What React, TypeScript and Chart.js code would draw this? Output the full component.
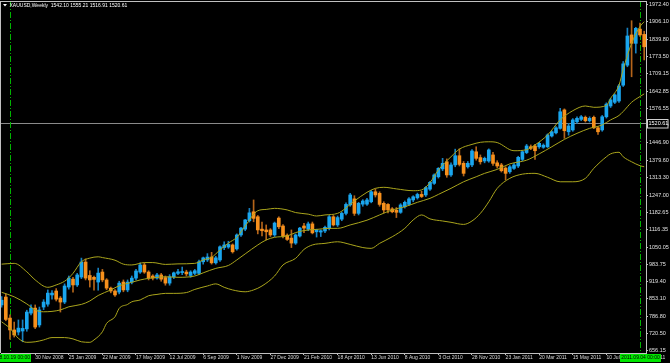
import { useEffect, useRef } from "react";
import { Chart, registerables } from "chart.js";

Chart.register(...registerables);

// ---------- data ----------
const symbolTitle = "XAUUSD,Weekly";
const headerOHLC = ["1542.10", "1555.21", "1516.91", "1520.61"];
const currentPrice = 1520.61;

// week index of the first candle (week 0 = 2008.10.19)
const firstWeek = -2;

const opens = [
  830, 860, 780, 735, 727, 731, 739, 799, 818, 754, 822, 833,
  868, 883, 856, 841, 898, 928, 906, 936, 993, 942,
  935, 917, 955, 925, 894, 883, 879, 917, 887, 917,
  932, 955, 982, 955, 940, 932, 944, 934, 913, 937,
  950, 953, 955, 942, 950, 950, 994, 1001, 1012, 990,
  1001, 1048, 1050, 1058, 1043, 1096, 1118, 1150, 1184, 1165,
  1118, 1115, 1115, 1096, 1160, 1130, 1095, 1084, 1065, 1092,
  1130, 1118, 1138, 1108, 1107, 1111, 1121, 1165, 1134, 1156,
  1178, 1210, 1233, 1178, 1213, 1213, 1222, 1260, 1254, 1216,
  1212, 1195, 1190, 1182, 1203, 1212, 1229, 1237, 1250, 1248,
  1270, 1292, 1317, 1347, 1374, 1324, 1362, 1397, 1368, 1355,
  1362, 1412, 1390, 1377, 1377, 1400, 1370, 1362, 1350, 1336,
  1349, 1358, 1383, 1409, 1431, 1434, 1431, 1429, 1431, 1472,
  1484, 1501, 1571, 1488, 1495, 1526, 1535, 1543, 1530, 1543,
  1503, 1495, 1545, 1586, 1600, 1605, 1665, 1741, 1856, 1824, 1878, 1858,
];
const highs = [
  862, 872, 792, 765, 773, 773, 810, 830, 830, 822, 850, 887,
  885, 892, 862, 910, 940, 935, 950, 1008, 1005, 960,
  940, 970, 965, 930, 898, 888, 920, 925, 925, 940,
  965, 990, 990, 960, 945, 950, 950, 940, 945, 955,
  965, 974, 962, 960, 965, 1000, 1012, 1025, 1030, 1015,
  1055, 1070, 1072, 1062, 1100, 1125, 1155, 1197, 1229, 1170,
  1145, 1134, 1120, 1145, 1165, 1135, 1100, 1115, 1100, 1125,
  1140, 1145, 1145, 1118, 1115, 1130, 1170, 1170, 1168, 1183,
  1218, 1254, 1245, 1220, 1230, 1235, 1265, 1271, 1260, 1222,
  1215, 1200, 1200, 1215, 1225, 1238, 1245, 1255, 1262, 1280,
  1300, 1328, 1352, 1387, 1385, 1370, 1422, 1423, 1375, 1375,
  1420, 1431, 1400, 1392, 1423, 1410, 1378, 1368, 1355, 1360,
  1368, 1395, 1415, 1440, 1438, 1440, 1448, 1442, 1480, 1492,
  1508, 1577, 1575, 1520, 1538, 1545, 1550, 1548, 1545, 1548,
  1508, 1550, 1598, 1615, 1632, 1668, 1755, 1882, 1910, 1885, 1901, 1870,
];
const lows = [
  822, 770, 700, 708, 716, 690, 730, 792, 740, 746, 812, 825,
  852, 845, 803, 835, 890, 879, 900, 930, 925, 898,
  886, 886, 918, 888, 876, 862, 872, 880, 880, 910,
  925, 950, 950, 925, 925, 928, 920, 905, 905, 930,
  945, 945, 940, 935, 945, 945, 985, 995, 985, 985,
  995, 1040, 1045, 1027, 1038, 1090, 1112, 1145, 1146, 1100,
  1092, 1077, 1090, 1090, 1120, 1085, 1075, 1048, 1060, 1088,
  1105, 1112, 1100, 1088, 1090, 1105, 1115, 1130, 1128, 1150,
  1172, 1205, 1170, 1172, 1205, 1208, 1218, 1240, 1205, 1180,
  1180, 1180, 1162, 1178, 1198, 1208, 1222, 1232, 1238, 1242,
  1265, 1288, 1312, 1340, 1315, 1318, 1355, 1358, 1320, 1350,
  1355, 1380, 1365, 1370, 1372, 1360, 1350, 1335, 1305, 1330,
  1345, 1352, 1378, 1405, 1420, 1383, 1425, 1425, 1428, 1468,
  1480, 1498, 1463, 1475, 1490, 1520, 1530, 1525, 1525, 1500,
  1478, 1490, 1540, 1580, 1595, 1600, 1660, 1735, 1697, 1787, 1850, 1761,
];
const closes = [
  848, 775, 735, 716, 742, 741, 803, 818, 746, 811, 841, 875,
  875, 852, 841, 902, 932, 906, 944, 993, 932, 925,
  927, 951, 925, 894, 883, 868, 913, 887, 917, 932,
  959, 982, 955, 932, 932, 944, 928, 913, 937, 952,
  956, 957, 948, 955, 960, 994, 1009, 1012, 990, 1009,
  1051, 1058, 1060, 1032, 1096, 1122, 1153, 1180, 1159, 1115,
  1112, 1108, 1096, 1141, 1127, 1092, 1079, 1065, 1096, 1122,
  1122, 1138, 1104, 1115, 1112, 1125, 1165, 1134, 1162, 1178,
  1212, 1248, 1178, 1216, 1225, 1229, 1260, 1248, 1212, 1191,
  1191, 1184, 1182, 1210, 1220, 1233, 1241, 1250, 1242, 1276,
  1296, 1324, 1349, 1368, 1324, 1362, 1397, 1364, 1330, 1368,
  1415, 1387, 1374, 1387, 1419, 1368, 1358, 1340, 1330, 1355,
  1362, 1391, 1412, 1434, 1425, 1416, 1444, 1437, 1476, 1488,
  1503, 1564, 1492, 1510, 1533, 1539, 1545, 1530, 1539, 1503,
  1488, 1545, 1593, 1609, 1628, 1662, 1746, 1852, 1824, 1881, 1856, 1811,
];

// Bollinger bands: [week, value]
const upperBand: [number, number][] = [
  [-2, 985], [1, 988], [4, 956], [6, 925], [9, 897], [11, 906], [13, 920], [14, 933],
  [15, 950], [17, 994], [19, 1008], [21, 1013], [22, 1010], [25, 1000], [27, 985],
  [29, 982], [32, 991], [34, 991], [37, 984], [40, 986], [44, 988], [46, 1001],
  [48, 1011], [50, 1039], [52, 1065], [54, 1087], [56, 1130], [59, 1188], [61, 1193],
  [63, 1197], [66, 1191], [68, 1181], [71, 1175], [73, 1168], [75, 1172], [78, 1178],
  [82, 1225], [85, 1258], [87, 1273], [89, 1277], [92, 1271], [96, 1264], [98, 1267],
  [100, 1295], [102, 1343], [105, 1393], [107, 1422], [110, 1440], [112, 1448],
  [114, 1450], [116, 1447], [120, 1416], [123, 1420], [125, 1438], [128, 1476],
  [131, 1533], [134, 1568], [137, 1586], [139, 1581], [142, 1588], [143, 1615],
  [145, 1665], [146, 1725], [148, 1824], [150, 1888], [151, 1906],
];
const middleBand: [number, number][] = [
  [-2, 878], [1, 861], [4, 834], [6, 811], [8, 804], [12, 811], [14, 823], [17, 832],
  [19, 845], [21, 866], [24, 887], [26, 903], [29, 916], [31, 925], [33, 931],
  [35, 935], [37, 937], [40, 935], [44, 940], [46, 952], [49, 969], [52, 980],
  [54, 1001], [56, 1024], [59, 1058], [61, 1077], [63, 1087], [66, 1092], [68, 1105],
  [71, 1115], [73, 1117], [76, 1121], [78, 1121], [81, 1134], [85, 1152], [88, 1172],
  [91, 1191], [94, 1203], [97, 1220], [100, 1235], [102, 1250], [105, 1273],
  [108, 1298], [111, 1317], [113, 1330], [116, 1345], [119, 1366], [123, 1380],
  [126, 1404], [129, 1431], [132, 1459], [135, 1482], [138, 1501], [141, 1514],
  [143, 1533], [145, 1550], [146, 1565], [148, 1600], [150, 1622], [151, 1632],
];
const lowerBand: [number, number][] = [
  [-2, 766], [0, 741], [2, 703], [4, 688], [6, 690], [8, 697], [10, 706], [13, 706],
  [15, 701], [17, 690], [19, 688], [20, 697], [22, 728], [23, 760], [25, 785],
  [26, 817], [28, 832], [29, 842], [31, 849], [33, 865], [35, 870], [37, 874],
  [39, 874], [42, 877], [44, 889], [47, 902], [49, 910], [51, 897], [53, 887],
  [56, 880], [58, 887], [60, 902], [63, 940], [65, 982], [68, 1007], [70, 1041],
  [72, 1058], [75, 1064], [78, 1070], [81, 1060], [84, 1048], [86, 1045], [88, 1064],
  [91, 1089], [94, 1121], [96, 1153], [98, 1172], [100, 1157], [103, 1149],
  [105, 1144], [108, 1136], [110, 1149], [112, 1178], [114, 1222], [116, 1273],
  [119, 1311], [122, 1327], [125, 1330], [128, 1315], [131, 1298], [134, 1298],
  [137, 1311], [139, 1349], [142, 1393], [143, 1404], [145, 1410], [146, 1393],
  [148, 1374], [150, 1359], [151, 1355],
];

const xTickWeeks = [-2, 6, 14, 22, 30, 38, 46, 54, 62, 70, 78, 86, 94, 102, 110, 118, 126, 134, 142, 150];
const xTickLabels = [
  "5 Oct 2008", "30 Nov 2008", "25 Jan 2009", "22 Mar 2009", "17 May 2009",
  "12 Jul 2009", "6 Sep 2009", "1 Nov 2009", "27 Dec 2009", "21 Feb 2010",
  "18 Apr 2010", "13 Jun 2010", "8 Aug 2010", "3 Oct 2010", "28 Nov 2010",
  "23 Jan 2011", "20 Mar 2011", "15 May 2011", "10 Jul 2011", "4 Sep 2011",
];
const yTickValues = [
  1972.4, 1906.1, 1839.8, 1773.5, 1709.15, 1642.85, 1576.55, 1511.7, 1446.9,
  1379.6, 1313.3, 1247.0, 1182.65, 1116.35, 1050.05, 983.75, 919.4, 853.1,
  786.8, 720.5, 656.15,
];

const markerWeeks = [0, 150];
const markerLabels = ["2008.10.19 00:00", "2011.09.04 00:00"];

// ---------- style ----------
const FONT = "'Liberation Sans', Arial, sans-serif";
const BULL = "#1aa6ee";
const BEAR = "#f7901c";
const BULL_WICK = "#1781c0";
const BEAR_WICK = "#b5651a";
const BAND = "#aaa51c";
const AXIS = "#c0c0c0";
const MARKER = "#00b400";

const X_MIN = -2.143;
const X_MAX = 151.43;
const Y_MIN = 647.4;
const Y_MAX = 1984.9;

const overlay = {
  id: "overlay",
  beforeDatasetsDraw(chart: any) {
    const { ctx, chartArea: ca, scales } = chart;
    const x = scales.x;
    const y = scales.y;
    ctx.save();
    const py = Math.round(y.getPixelForValue(currentPrice)) + 0.5;
    ctx.strokeStyle = "#8a8a8a";
    ctx.lineWidth = 1;
    ctx.beginPath();
    ctx.moveTo(0, py);
    ctx.lineTo(ca.right, py);
    ctx.stroke();
    ctx.strokeStyle = MARKER;
    ctx.setLineDash([6, 2, 1, 2]);
    markerWeeks.forEach((w) => {
      const px = Math.round(x.getPixelForValue(w)) + 0.5;
      ctx.beginPath();
      ctx.moveTo(px, ca.top);
      ctx.lineTo(px, ca.bottom);
      ctx.stroke();
    });
    ctx.restore();
  },
  afterDraw(chart: any) {
    const { ctx, chartArea: ca, scales } = chart;
    const x = scales.x;
    const y = scales.y;
    ctx.save();
    // frame
    ctx.strokeStyle = AXIS;
    ctx.lineWidth = 1;
    ctx.beginPath();
    ctx.moveTo(0, 1.5);
    ctx.lineTo(ca.right, 1.5);
    ctx.moveTo(0.5, 1);
    ctx.lineTo(0.5, ca.bottom);
    ctx.stroke();
    // header
    ctx.fillStyle = "#ffffff";
    ctx.beginPath();
    ctx.moveTo(3, 4);
    ctx.lineTo(7, 4);
    ctx.lineTo(5, 6.5);
    ctx.closePath();
    ctx.fill();
    ctx.font = `5px ${FONT}`;
    ctx.textBaseline = "middle";
    ctx.textAlign = "left";
    ctx.fillText(symbolTitle + "  " + headerOHLC.join(" "), 9.5, 5.5);
    // price box
    const py = Math.round(y.getPixelForValue(currentPrice)) + 0.5;
    ctx.fillStyle = "#000";
    ctx.fillRect(647, py - 4.5, 21, 9);
    ctx.strokeStyle = "#d0d0d0";
    ctx.strokeRect(647.5, py - 4, 20.5, 8.5);
    ctx.fillStyle = "#ffffff";
    ctx.font = `5.5px ${FONT}`;
    ctx.fillText(currentPrice.toFixed(2), 648.5, py + 0.3);
    // marker date boxes
    ctx.font = `5px ${FONT}`;
    ctx.textAlign = "center";
    markerWeeks.forEach((w, k) => {
      const px = Math.round(x.getPixelForValue(w)) + 0.5;
      ctx.fillStyle = "#00e600";
      ctx.fillRect(px - 20.5, ca.bottom + 1, 41, 8);
      ctx.fillStyle = "#000";
      ctx.fillText(markerLabels[k], px, ca.bottom + 5);
    });
    ctx.restore();
  },
};

function bandDataset(label: string, pts: [number, number][]) {
  return {
    type: "line" as const,
    label,
    data: pts.map(([w, v]) => ({ x: w, y: v })),
    borderColor: BAND,
    borderWidth: 1,
    pointRadius: 0,
    fill: false,
    cubicInterpolationMode: "monotone" as const,
  };
}

export default function App() {
  const ref = useRef<HTMLCanvasElement>(null);
  useEffect(() => {
    document.body.style.margin = "0";
    document.body.style.background = "#000";
    const canvas = ref.current!;
    const weeks = opens.map((_, k) => firstWeek + k);
    const bull = weeks.map((_, k) => closes[k] >= opens[k]);
    const chart = new Chart(canvas, {
      type: "bar",
      data: {
        datasets: [
          bandDataset("upper", upperBand),
          bandDataset("middle", middleBand),
          bandDataset("lower", lowerBand),
          {
            type: "bar",
            label: "bodies",
            data: weeks.map((w, k) => ({ x: w, y: [opens[k], closes[k]] })) as any,
            backgroundColor: bull.map((b) => (b ? BULL : BEAR)),
            barThickness: 3,
            minBarLength: 1,
            grouped: false,
            borderWidth: 0,
          },
          {
            type: "bar",
            label: "wicks",
            data: weeks.map((w, k) => ({ x: w, y: [lows[k], highs[k]] })) as any,
            backgroundColor: bull.map((b) => (b ? BULL_WICK : BEAR_WICK)),
            barThickness: 1,
            grouped: false,
            borderWidth: 0,
          },
        ] as any,
      },
      options: {
        responsive: false,
        animation: false,
        devicePixelRatio: 1,
        layout: { padding: { left: 1, top: 1, right: 0, bottom: 0 } },
        plugins: { legend: { display: false }, tooltip: { enabled: false } },
        scales: {
          x: {
            type: "linear",
            min: X_MIN,
            max: X_MAX,
            offset: false,
            grid: { display: true, drawOnChartArea: false, drawTicks: true, tickLength: 2, color: AXIS, offset: false },
            border: { display: true, color: AXIS },
            ticks: {
              autoSkip: false,
              maxRotation: 0,
              minRotation: 0,
              align: "start",
              padding: 0,
              color: "#d8d8d8",
              font: { family: FONT, size: 5 },
              callback: (v: any) => {
                const k = xTickWeeks.indexOf(Number(v));
                return k >= 0 ? xTickLabels[k] : "";
              },
            },
            afterBuildTicks: (s: any) => {
              s.ticks = xTickWeeks.map((v) => ({ value: v }));
            },
            afterFit: (s: any) => {
              s.height = 10;
              s.paddingLeft = 0;
              s.paddingRight = 0;
            },
          },
          y: {
            type: "linear",
            position: "right",
            min: Y_MIN,
            max: Y_MAX,
            beginAtZero: false,
            grid: { display: true, drawOnChartArea: false, drawTicks: true, tickLength: 2, color: AXIS },
            border: { display: true, color: AXIS },
            ticks: {
              padding: 1,
              color: "#e0e0e0",
              font: { family: FONT, size: 5.5 },
              callback: (v: any) => Number(v).toFixed(2),
            },
            afterBuildTicks: (s: any) => {
              s.ticks = yTickValues.map((v) => ({ value: v }));
            },
            afterFit: (s: any) => {
              s.width = 24;
              s.paddingTop = 0;
              s.paddingBottom = 0;
            },
          },
        },
      } as any,
      plugins: [overlay],
    });
    return () => chart.destroy();
  }, []);
  return (
    <div style={{ position: "fixed", left: 0, top: 0, width: 670, height: 363, background: "#000" }}>
      <canvas ref={ref} width={670} height={363} style={{ display: "block" }} />
    </div>
  );
}
